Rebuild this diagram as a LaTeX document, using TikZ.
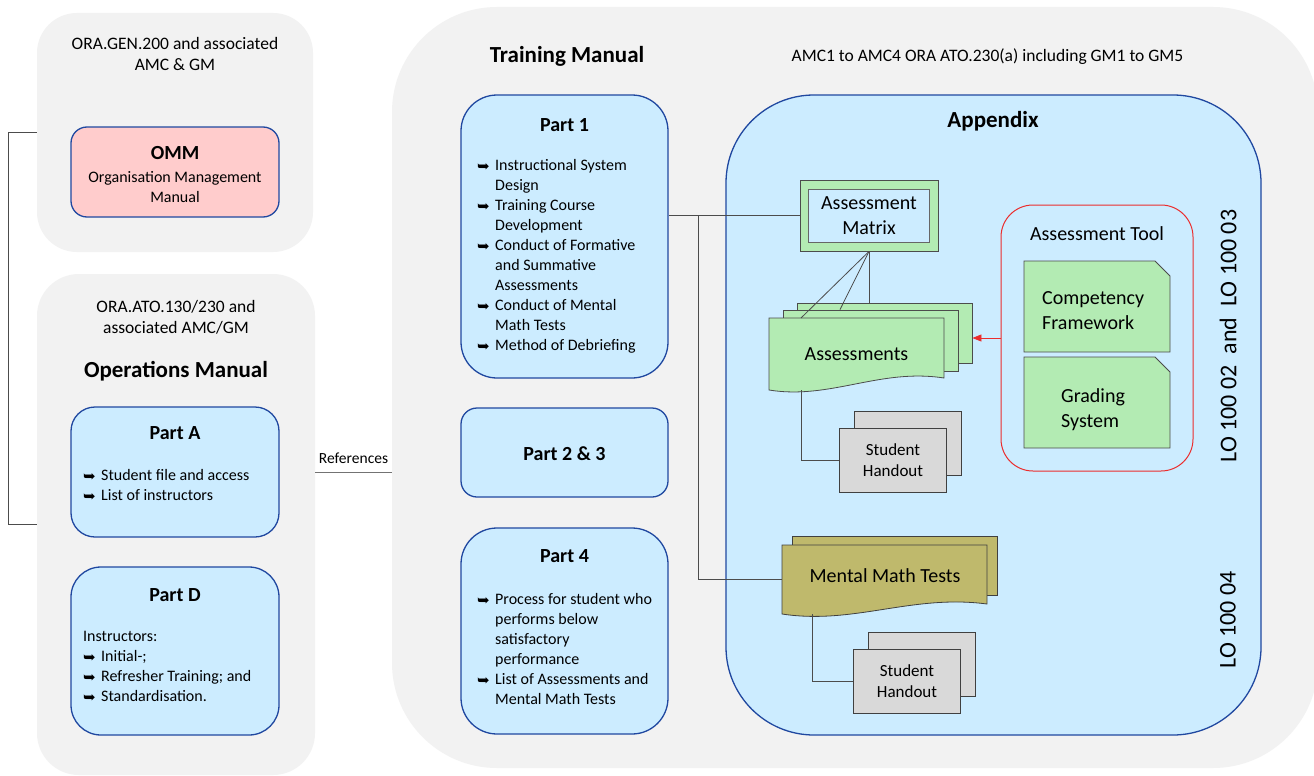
\documentclass[tikz,border=0pt]{standalone}
\usepackage{fontspec}
\setmainfont{Carlito}
\newfontfamily\bulfont{DejaVu Sans}
\usetikzlibrary{arrows.meta,positioning}
\definecolor{zonegrey}{RGB}{242,242,242}
\definecolor{partfill}{RGB}{204,236,255}
\definecolor{partline}{RGB}{32,72,160}
\definecolor{ommpink}{RGB}{255,204,204}
\definecolor{docgreen}{RGB}{179,235,179}
\definecolor{mathkhaki}{RGB}{191,185,108}
\definecolor{handgrey}{RGB}{217,217,217}
\definecolor{toolred}{RGB}{235,45,45}
\newcommand{\bul}{\makebox[18pt][l]{\raisebox{-1pt}{\bulfont\fontsize{15}{15}\selectfont\char"27A5}}}
\newcommand{\bulskip}{\hspace*{18pt}}
\tikzset{
      zone/.style={fill=zonegrey, draw=none, inner sep=0pt},
      partbox/.style={draw=partline, line width=1.3pt, fill=partfill, inner sep=0pt},
      ommbox/.style={partbox, fill=ommpink},
      parttitle/.style={font=\bfseries\fontsize{20}{24}\selectfont, anchor=base, inner sep=0pt},
      mainhead/.style={font=\bfseries\fontsize{23}{28}\selectfont, anchor=base, inner sep=0pt},
      bodytext/.style={font=\fontsize{16}{20}\selectfont, align=left, inner sep=0pt},
      reftext/.style={font=\fontsize{17.5}{20.6}\selectfont, align=center, inner sep=0pt},
      doctext/.style={font=\fontsize{20}{25}\selectfont, align=left, inner sep=0pt},
      lotext/.style={font=\fontsize{24}{28}\selectfont, inner sep=0pt, rotate=90},
      greenbox/.style={fill=docgreen, draw=black!70, line width=0.8pt, inner sep=0pt},
      khakibox/.style={fill=mathkhaki, draw=black!75, line width=0.8pt, inner sep=0pt},
      shapebox/.style={inner sep=0pt, outer sep=0pt},
      handout/.style={fill=handgrey, draw=black!75, line width=0.8pt, minimum width=107pt,
        minimum height=64pt, align=center, font=\fontsize{17}{21}\selectfont, inner sep=0pt},
      link/.style={draw=black!70, line width=0.8pt},
      toolarrow/.style={draw=toolred, line width=0.8pt, -{Triangle[length=9pt,width=7pt]}}
    }
\begin{document}
\begin{tikzpicture}[x=1pt,y=-1pt]
    \useasboundingbox (0,0) rectangle (1314,776);
    \fill[white] (0,0) rectangle (1314,776);
    \node[zone, rounded corners=40pt, minimum width=276pt, minimum height=239pt] (genzone) at (175,132.5) {};
    \node[zone, rounded corners=42pt, minimum width=278pt, minimum height=501pt] (opszone) at (176,524.5) {};
    \node[zone, rounded corners=105pt, minimum width=926pt, minimum height=761pt] (trainzone) at (855,387.5) {};

    \node[reftext] (genref) at (175,54) {ORA.GEN.200 and associated\\AMC \& GM};
    \node[ommbox, rounded corners=16pt, minimum width=208pt, minimum height=90pt] (omm) at (175,172) {};
    \node[parttitle] (ommtitle) at (175,159) {OMM};
    \node[bodytext, align=center] (ommtext) at (175,187) {Organisation Management\\Manual};

    \node[reftext] (opsref) at (176,317.5) {ORA.ATO.130/230 and\\associated AMC/GM};
    \node[mainhead] (opshead) at (176,377) {Operations Manual};
    \node[partbox, rounded corners=24pt, minimum width=208pt, minimum height=130pt] (parta) at (175,472) {};
    \node[parttitle] (partatitle) at (175,439) {Part A};
    \node[bodytext, anchor=west] (partalist) at (83,485.5) {\bul Student file and access\\\bul List of instructors};
    \node[partbox, rounded corners=30pt, minimum width=208pt, minimum height=168pt] (partd) at (175,651) {};
    \node[parttitle] (partdtitle) at (175,601) {Part D};
    \node[bodytext, anchor=west] (partdlist) at (83,666.5) {Instructors:\\\bul Initial-;\\\bul Refresher Training; and\\\bul Standardisation.};

    \node[mainhead] (trainhead) at (567,63) {Training Manual};
    \node[reftext, anchor=base] (trainref) at (987.5,62) {AMC1 to AMC4 ORA ATO.230(a) including GM1 to GM5};
    \node[partbox, rounded corners=36pt, minimum width=207pt, minimum height=283pt] (part1) at (564.5,236.5) {};
    \node[parttitle] (part1title) at (564.5,131) {Part 1};
    \node[bodytext, anchor=west] (part1list) at (477,256.5) {\bul Instructional System\\\bulskip Design\\\bul Training Course\\\bulskip Development\\\bul Conduct of Formative\\\bulskip and Summative\\\bulskip Assessments\\\bul Conduct of Mental\\\bulskip Math Tests\\\bul Method of Debriefing};
    \node[partbox, rounded corners=16pt, minimum width=207pt, minimum height=89pt] (part23) at (564.5,452.5) {};
    \node[parttitle] (part23title) at (564.5,460) {Part 2 \& 3};
    \node[partbox, rounded corners=36pt, minimum width=207pt, minimum height=206pt] (part4) at (564.5,631) {};
    \node[parttitle] (part4title) at (564.5,562) {Part 4};
    \node[bodytext, anchor=west] (part4list) at (477,648.5) {\bul Process for student who\\\bulskip performs below\\\bulskip satisfactory\\\bulskip performance\\\bul List of Assessments and\\\bulskip Mental Math Tests};

    \node[partbox, rounded corners=88pt, minimum width=535pt, minimum height=640pt] (appx) at (993.5,415) {};
    \node[mainhead] (appxhead) at (993,127) {Appendix};

    \node[greenbox, minimum width=138pt, minimum height=71pt] (mtx) at (869,215.5) {};
    \node[fill=partfill, draw=black!60, line width=0.8pt, minimum width=121pt, minimum height=53pt, doctext, align=center] (mtxin) at (mtx) {Assessment\\Matrix};

    \node[greenbox, minimum width=175pt, minimum height=60pt] (asmback) at (884.5,333) {};
    \node[greenbox, minimum width=175pt, minimum height=61pt] (asmmid) at (870.5,340.5) {};
    \node[shapebox, minimum width=175pt, minimum height=72pt] (asm) at (856.5,354) {};
    \path[greenbox] (asm.north west) -- (asm.north east) -- ([yshift=12pt]asm.south east) .. controls +(-64,-10) and +(61,10) .. (asm.south west) -- cycle;
    \node[doctext, anchor=base] (asmtext) at (856.5,360) {Assessments};
    \node[handout] (hoaback) at (907.5,443.5) {};
    \node[handout] (hoa) at (893,460) {Student\\Handout};

    \node[draw=toolred, line width=1pt, rounded corners=32pt, minimum width=192pt, minimum height=266pt] (tool) at (1097,338) {};
    \node[doctext, anchor=base] (tooltitle) at (1097,240) {Assessment Tool};
    \node[shapebox, minimum width=146pt, minimum height=91pt] (comp) at (1097,306.5) {};
    \path[greenbox] (comp.north west) -- ([xshift=-15pt]comp.north east) -- ([yshift=-15pt]comp.north east) -- (comp.south east) -- (comp.south west) -- cycle;
    \node[doctext, anchor=west] (comptext) at (1042,310.5) {Competency\\Framework};
    \node[shapebox, minimum width=146pt, minimum height=91pt] (grade) at (1097,402.5) {};
    \path[greenbox] (grade.north west) -- ([xshift=-15pt]grade.north east) -- ([yshift=-15pt]grade.north east) -- (grade.south east) -- (grade.south west) -- cycle;
    \node[doctext, anchor=west] (gradetext) at (1061,410) {Grading\\System};

    \node[lotext] (lofirst) at (1228,336) {LO 100 02\ \ and\ \ LO 100 03};
    \node[lotext] (losecond) at (1228,620) {LO 100 04};

    \node[khakibox, minimum width=205pt, minimum height=59pt] (mmtback) at (894.5,565.5) {};
    \node[shapebox, minimum width=205pt, minimum height=69pt] (mmt) at (884.5,579.5) {};
    \path[khakibox] (mmt.north west) -- (mmt.north east) -- ([yshift=10pt]mmt.south east) .. controls +(-75,-10) and +(72,11) .. (mmt.south west) -- cycle;
    \node[doctext, anchor=base] (mmttext) at (885,582) {Mental Math Tests};
    \node[handout] (hobback) at (921.5,664) {};
    \node[handout] (hob) at (907,681) {Student\\Handout};

    \coordinate (refpt) at (353,472);
    \coordinate (split) at (698,215.5);
    \draw[link] (genzone.west) -- ++(-28,0) |- (opszone.west);
    \draw[link, draw=black!55] (opszone.east |- refpt) -- (trainzone.west |- refpt)
      node[midway, above=8pt, inner sep=0pt, font=\fontsize{15.5}{18}\selectfont] (reflabel) {References};
    \draw[link] (part1.east |- mtx.west) -- (mtx.west);
    \draw[link] (split) |- (mmt.west);
    \draw[link] (mtx.south) -- ([xshift=-55.5pt]asm.north);
    \draw[link] (mtx.south) -- ([xshift=-30.5pt]asmmid.north);
    \draw[link] (mtx.south) -- (asmback.north -| mtx.south);
    \draw[link] ([xshift=-55.5pt]asm.south) |- (hoa.west);
    \draw[link] ([xshift=-72.5pt]mmt.south) |- (hob.west);
    \draw[toolarrow] (tool.west) -- (asmback.east |- tool.west);
    \end{tikzpicture}
\end{document}
